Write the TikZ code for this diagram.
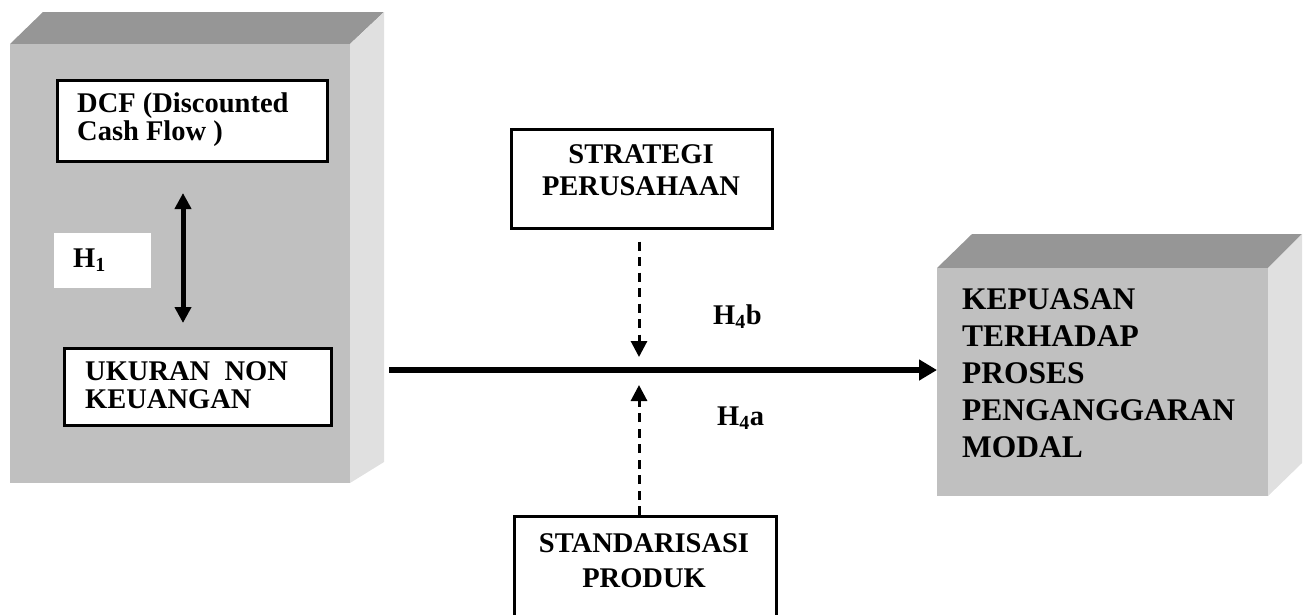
\documentclass[tikz,border=0pt]{standalone}
\usepackage{fontspec}
\setmainfont{Liberation Serif}
\usetikzlibrary{arrows.meta}
\definecolor{frontgray}{HTML}{C0C0C0}
\definecolor{topgray}{HTML}{969696}
\definecolor{sidegray}{HTML}{E0E0E0}
\tikzset{
  frontface/.style={fill=frontgray, draw=none},
  topface/.style={fill=topgray, draw=none},
  sideface/.style={fill=sidegray, draw=none},
  whitebox/.style={draw=black, line width=2.5pt, fill=white},
  txt/.style={inner sep=0pt, font=\bfseries\fontsize{28.5}{28}\selectfont},
  bigtxt/.style={inner sep=0pt, font=\bfseries\fontsize{31.5}{37}\selectfont},
  dasharrow/.style={line width=3pt, dash pattern=on 9pt off 6.5pt, -{Triangle[length=16pt, width=16pt]}},
}
\begin{document}
\begin{tikzpicture}[x=1pt, y=-1pt]
\useasboundingbox (0,0) rectangle (1308,614);
% left cube
\fill[topface] (10,44) -- (43,12) -- (384,12) -- (350,44) -- cycle;
\fill[sideface] (350,44) -- (384,12) -- (384,462) -- (350,483) -- cycle;
\node[frontface, anchor=north west, minimum width=340pt, minimum height=439pt, inner sep=0pt] (left) at (10,44) {};
% right cube
\fill[topface] (937,268) -- (972,234) -- (1302,234) -- (1268,268) -- cycle;
\fill[sideface] (1268,268) -- (1302,234) -- (1302,463) -- (1268,496) -- cycle;
\node[frontface, anchor=north west, minimum width=331pt, minimum height=228pt, inner sep=0pt] (kep) at (937,268) {};
\node[bigtxt, anchor=base west, align=left] (keptxt) at (962,457) {KEPUASAN\\TERHADAP\\PROSES\\PENGANGGARAN\\MODAL};
% DCF box
\node[whitebox, anchor=north west, minimum width=270pt, minimum height=81pt, inner sep=0pt] (dcf) at (56,79) {};
\node[txt, anchor=base west, align=left] (dcftxt) at (77,140) {DCF (Discounted\\Cash Flow )};
% H1
\node[fill=white, anchor=north west, minimum width=97pt, minimum height=55pt, inner sep=0pt] (h1box) at (54,233) {};
\node[txt, anchor=base west] (h1) at (73,267) {H\textsubscript{1}};
% Ukuran box
\node[whitebox, anchor=north west, minimum width=267pt, minimum height=77pt, inner sep=0pt] (uk) at (63,347) {};
\node[txt, anchor=base west, align=left] (uktxt) at (85,408) {UKURAN\ \ NON\\KEUANGAN};
% double arrow
\coordinate (da1) at (183,193);
\coordinate (da2) at (183,323);
\draw[line width=5pt, {Triangle[length=16pt, width=16pt]}-{Triangle[length=16pt, width=16pt]}] (da1) -- (da2);
% main arrow
\coordinate (mstart) at (389,370);
\draw[line width=6pt, -{Triangle[length=18pt, width=20pt]}] (mstart) -- (kep.west |- mstart);
% strategi box
\node[whitebox, anchor=north west, minimum width=261pt, minimum height=99pt, inner sep=0pt] (strat) at (510,128) {};
\node[txt, anchor=base, align=center, font=\bfseries\fontsize{28.5}{32}\selectfont] (strattxt) at (641,195) {STRATEGI\\PERUSAHAAN};
% standarisasi box
\node[whitebox, anchor=north west, minimum width=262pt, minimum height=120pt, inner sep=0pt] (std) at (513,515) {};
\node[txt, anchor=base, align=center, font=\bfseries\fontsize{28.5}{35}\selectfont] (stdtxt) at (644,587) {STANDARISASI\\PRODUK};
% dashed arrows
\coordinate (tb) at (639,357);
\coordinate (ta) at (639,385);
\draw[dasharrow] (strat.south -| tb) ++(0,12) -- (tb);
\draw[dasharrow] (std.north -| ta) -- (ta);
% labels
\node[txt, anchor=base west] (h4b) at (713,324) {H\textsubscript{4}b};
\node[txt, anchor=base west] (h4a) at (717,425) {H\textsubscript{4}a};
\end{tikzpicture}
\end{document}
